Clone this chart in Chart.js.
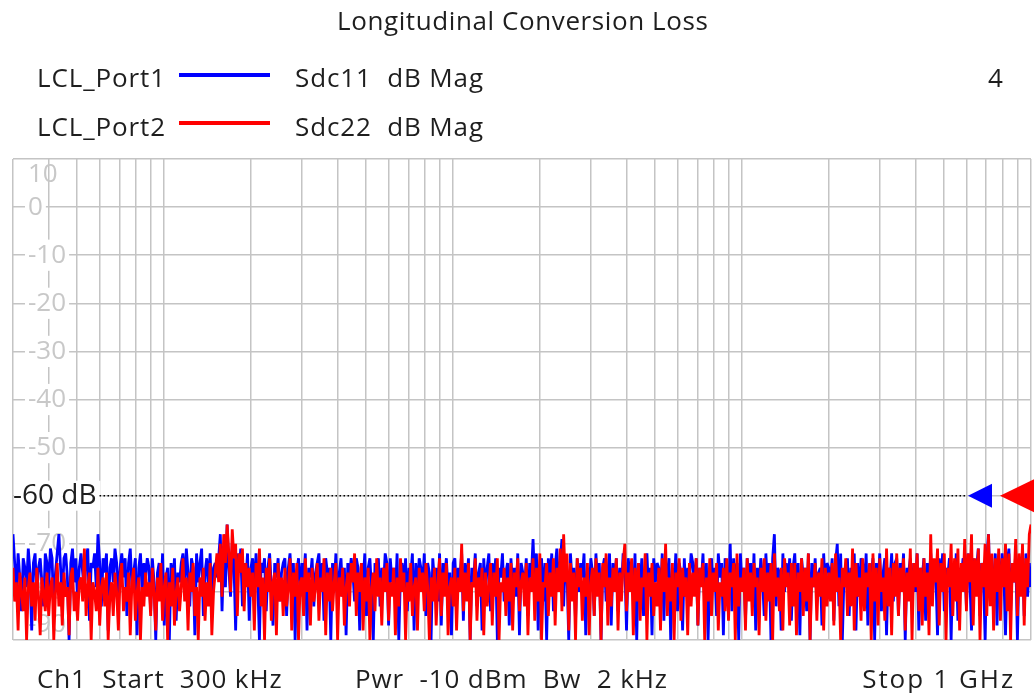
<!DOCTYPE html>
<html>
<head>
<meta charset="utf-8">
<title>Longitudinal Conversion Loss</title>
<script src="https://cdn.jsdelivr.net/npm/chart.js@4.4.1/dist/chart.umd.min.js"></script>
<style>
  html, body { margin: 0; padding: 0; background: #fff; }
  body { width: 1034px; height: 693px; position: relative; overflow: hidden; font-family: "Open Sans", sans-serif; color: #1e1e1e; }
  #chart { position: absolute; left: 0; top: 0; }
  .txt { position: absolute; font-size: 26px; line-height: 26px; white-space: pre; letter-spacing: 0.9px; }
  .swatch { position: absolute; width: 91px; height: 4px; }
</style>
</head>
<body>
<canvas id="chart" width="1034" height="693"></canvas>
<div class="txt" style="left:337px; top:7px; letter-spacing:0.6px;">Longitudinal Conversion Loss</div>
<div class="txt" style="left:37px; top:64px;">LCL_Port1</div>
<div class="swatch" style="left:179px; top:73px; background:#0000ff;"></div>
<div class="txt" style="left:295px; top:64px;">Sdc11  dB Mag</div>
<div class="txt" style="left:988px; top:64px;">4</div>
<div class="txt" style="left:37px; top:113px;">LCL_Port2</div>
<div class="swatch" style="left:179px; top:121px; background:#ff0000;"></div>
<div class="txt" style="left:295px; top:113px;">Sdc22  dB Mag</div>
<div class="txt" style="left:37px; top:665px;">Ch1  Start  300 kHz</div>
<div class="txt" style="left:355px; top:665px;">Pwr  -10 dBm  Bw  2 kHz</div>
<div class="txt" style="right:19px; top:665px; letter-spacing:1.9px;">Stop 1 GHz</div>
<script>
// sweep: log, 300 kHz .. 1 GHz
const startFreq = 300e3;
const stopFreq = 1e9;
const yTicks = [10, 0, -10, -20, -30, -40, -50, -60, -70, -80, -90];
const refLevel = -60;

// Sdc11 (trace 1), dB left to right
const sdc11 = [
  -68,-74,-80,-72,-77,-84,-73,-75,-79,-71,-76,-88,-74,-72,-81,-75,-73,-78,-83,-72,
  -74,-79,-71,-73,-85,-76,-72,-68,-75,-81,-73,-72,-77,-90,-74,-71,-78,-73,-82,-75,
  -72,-76,-80,-73,-71,-86,-74,-75,-72,-79,-68,-74,-83,-73,-76,-72,-88,-75,-73,-78,
  -71,-74,-82,-75,-72,-77,-73,-85,-74,-71,-79,-76,-73,-89,-75,-72,-80,-74,-77,-73,
  -75,-84,-73,-78,-90,-76,-74,-81,-72,-87,-77,-75,-90,-74,-79,-73,-86,-76,-78,-74,
  -72,-80,-71,-76,-83,-73,-75,-89,-72,-78,-74,-71,-85,-76,-73,-79,-72,-82,-75,-74,
  -77,-73,-68,-84,-72,-79,-66,-75,-81,-70,-74,-88,-72,-76,-71,-83,-74,-78,-72,-86,
  -75,-73,-80,-72,-78,-90,-74,-76,-73,-84,-75,-72,-79,-87,-74,-77,-73,-82,-76,-74,
  -73,-85,-75,-72,-79,-74,-90,-76,-73,-81,-74,-78,-72,-88,-75,-77,-73,-83,-76,-74,
  -72,-80,-74,-86,-73,-76,-75,-90,-74,-79,-72,-84,-76,-73,-81,-75,-89,-74,-77,-73,
  -76,-82,-73,-75,-88,-74,-78,-72,-85,-75,-73,-80,-90,-74,-77,-73,-83,-75,-79,-72,
  -74,-87,-73,-78,-75,-81,-72,-90,-76,-74,-79,-73,-84,-75,-77,-72,-88,-74,-80,-73,
  -75,-79,-72,-85,-74,-76,-90,-73,-78,-75,-82,-72,-87,-74,-77,-73,-80,-76,-89,-74,
  -73,-81,-75,-77,-72,-86,-74,-79,-73,-90,-75,-78,-72,-83,-76,-74,-88,-73,-80,-75,
  -72,-84,-74,-78,-73,-90,-75,-77,-72,-82,-76,-74,-87,-73,-79,-75,-81,-72,-89,-74,
  -76,-80,-73,-85,-74,-77,-69,-79,-72,-88,-75,-73,-82,-74,-90,-73,-78,-72,-84,-75,
  -71,-79,-74,-69,-83,-73,-76,-90,-72,-78,-75,-86,-73,-80,-74,-77,-72,-89,-75,-81,
  -73,-76,-85,-72,-79,-74,-90,-75,-73,-82,-76,-72,-87,-74,-78,-73,-84,-75,-80,-72,
  -74,-88,-73,-77,-75,-81,-72,-90,-74,-79,-73,-85,-76,-72,-80,-75,-89,-73,-78,-74,
  -75,-82,-72,-86,-74,-77,-73,-90,-75,-79,-72,-84,-74,-76,-88,-73,-81,-75,-78,-72,
  -74,-79,-73,-87,-75,-78,-72,-83,-74,-90,-76,-73,-80,-75,-85,-72,-77,-74,-89,-73,
  -76,-81,-70,-84,-73,-78,-74,-90,-72,-79,-75,-86,-73,-77,-74,-82,-72,-88,-75,-80,
  -73,-77,-85,-72,-79,-74,-90,-73,-68,-83,-75,-76,-88,-72,-80,-74,-78,-73,-86,-75,
  -72,-81,-74,-89,-73,-77,-75,-84,-72,-90,-74,-79,-73,-82,-76,-75,-87,-72,-80,-74,
  -75,-78,-73,-86,-74,-70,-83,-72,-90,-76,-79,-73,-85,-75,-77,-72,-88,-74,-81,-73,
  -74,-80,-72,-87,-75,-77,-73,-90,-74,-79,-72,-84,-76,-73,-89,-75,-78,-72,-82,-74,
  -73,-85,-74,-78,-72,-90,-75,-76,-73,-83,-74,-80,-72,-88,-75,-77,-73,-86,-74,-79,
  -72,-81,-74,-76,-89,-73,-78,-72,-84,-75,-77,-73,-90,-74,-80,-72,-86,-75,-78,-73,
  -74,-83,-72,-77,-88,-73,-79,-75,-71,-85,-74,-76,-90,-73,-68,-82,-75,-78,-72,-87,
  -73,-80,-72,-76,-89,-74,-71,-84,-75,-78,-72,-90,-74,-77,-73,-85,-72,-81,-74,-79
];

// Sdc22 (trace 2), dB
const sdc22 = [
  -75,-82,-78,-88,-76,-80,-84,-77,-90,-79,-76,-83,-78,-86,-75,-81,-89,-77,-80,-84,
  -76,-85,-79,-77,-90,-80,-74,-83,-78,-87,-76,-81,-79,-89,-77,-75,-84,-80,-86,-78,
  -77,-82,-71,-85,-79,-76,-90,-78,-80,-84,-75,-87,-79,-77,-83,-76,-90,-81,-78,-85,
  -76,-80,-88,-77,-74,-84,-79,-82,-76,-89,-78,-75,-86,-80,-77,-90,-79,-83,-76,-81,
  -78,-85,-75,-80,-88,-77,-82,-74,-86,-79,-76,-90,-78,-83,-75,-87,-80,-77,-84,-79,
  -73,-82,-77,-88,-76,-80,-74,-85,-79,-90,-77,-81,-75,-86,-78,-83,-74,-89,-80,-76,
  -72,-78,-70,-81,-68,-74,-66,-72,-80,-67,-73,-70,-85,-72,-76,-71,-84,-74,-79,-75,
  -81,-76,-88,-74,-79,-71,-83,-77,-90,-75,-80,-73,-86,-78,-76,-89,-74,-82,-77,-85,
  -75,-83,-79,-73,-88,-76,-81,-74,-90,-78,-77,-85,-73,-80,-76,-87,-75,-82,-79,-74,
  -86,-77,-80,-73,-89,-76,-82,-75,-84,-78,-74,-90,-77,-81,-75,-87,-79,-76,-83,-74,
  -78,-72,-85,-76,-80,-74,-88,-77,-82,-75,-90,-79,-76,-84,-73,-81,-77,-87,-75,-80,
  -74,-86,-78,-81,-75,-89,-77,-83,-73,-80,-76,-90,-78,-82,-74,-85,-79,-77,-88,-75,
  -80,-76,-84,-74,-79,-90,-77,-82,-75,-87,-78,-73,-85,-76,-81,-74,-89,-79,-77,-83,
  -75,-88,-77,-80,-70,-84,-76,-82,-74,-90,-78,-79,-73,-86,-77,-81,-75,-89,-76,-83,
  -79,-74,-87,-76,-81,-73,-90,-78,-80,-75,-85,-77,-82,-74,-88,-76,-79,-73,-84,-78,
  -76,-83,-74,-89,-77,-80,-73,-86,-75,-82,-72,-90,-78,-79,-74,-85,-76,-81,-73,-87,
  -75,-80,-71,-84,-68,-78,-72,-88,-74,-82,-76,-90,-73,-79,-75,-86,-77,-81,-74,-89,
  -78,-75,-85,-73,-81,-76,-90,-74,-79,-72,-87,-77,-83,-75,-80,-73,-88,-76,-82,-74,
  -70,-84,-76,-80,-73,-89,-75,-82,-74,-86,-77,-79,-72,-90,-76,-81,-74,-85,-78,-83,
  -75,-88,-73,-80,-70,-85,-77,-82,-74,-90,-76,-79,-73,-86,-75,-81,-77,-89,-74,-83,
  -76,-81,-73,-87,-75,-79,-74,-90,-77,-82,-73,-85,-76,-80,-74,-88,-78,-81,-75,-84,
  -73,-86,-76,-79,-74,-90,-72,-83,-77,-80,-75,-88,-73,-82,-76,-85,-74,-79,-77,-89,
  -75,-80,-73,-86,-76,-82,-74,-90,-72,-81,-77,-84,-75,-88,-73,-79,-76,-87,-74,-83,
  -74,-89,-76,-80,-73,-85,-75,-82,-72,-90,-77,-79,-74,-86,-76,-81,-73,-88,-75,-83,
  -76,-82,-74,-87,-72,-80,-77,-90,-75,-79,-73,-85,-76,-83,-71,-88,-74,-81,-77,-86,
  -73,-84,-76,-79,-74,-90,-72,-82,-75,-87,-73,-80,-77,-86,-71,-83,-75,-89,-74,-81,
  -72,-85,-75,-80,-73,-88,-76,-82,-71,-90,-74,-79,-72,-84,-75,-87,-73,-81,-76,-89,
  -68,-83,-73,-78,-71,-87,-74,-80,-72,-90,-75,-79,-70,-85,-73,-82,-71,-88,-74,-80,
  -69,-84,-72,-78,-68,-87,-73,-81,-71,-90,-74,-79,-70,-85,-68,-83,-72,-88,-73,-80,
  -71,-86,-73,-79,-70,-84,-72,-90,-74,-78,-69,-85,-72,-81,-70,-87,-73,-79,-68,-66
];

// sweep points are spaced evenly in log frequency
function sweep(values) {
  const n = values.length;
  const span = Math.log10(stopFreq / startFreq);
  return values.map((v, i) => ({
    x: startFreq * Math.pow(10, (span * i) / (n - 1)),
    y: v,
  }));
}

// grid lines at 1..9 x 10^n inside the sweep
function logGrid() {
  const out = [{ value: startFreq }];
  for (let dec = 1e5; dec <= 1e9; dec *= 10) {
    for (let m = 1; m <= 9; m++) {
      const f = m * dec;
      if (f > startFreq && f < stopFreq) out.push({ value: f });
    }
  }
  out.push({ value: stopFreq });
  return out;
}

const gridGray = "#c4c4c4";
const labelGray = "#c8c8c8";
const uiFont = '"Open Sans", sans-serif';
const yMax = yTicks[0];
const yMin = yTicks[yTicks.length - 1];

const refLine = {
  id: "refLine",
  beforeDatasetsDraw(chart) {
    const { ctx, chartArea, scales } = chart;
    const yy = scales.y.getPixelForValue(refLevel);
    const label = `${refLevel} dB`;
    ctx.save();
    ctx.font = `28px ${uiFont}`;
    ctx.textBaseline = "middle";
    const w = ctx.measureText(label).width;
    ctx.fillStyle = "#fff";
    ctx.fillRect(chartArea.left + 1, yy - 15, w + 3, 30);
    ctx.fillStyle = "#1e1e1e";
    ctx.fillText(label, chartArea.left, yy);
    ctx.strokeStyle = "#000";
    ctx.lineWidth = 1.5;
    ctx.setLineDash([1.5, 2.5]);
    ctx.beginPath();
    ctx.moveTo(chartArea.left + w + 3, yy);
    ctx.lineTo(chartArea.right - 66, yy);
    ctx.stroke();
    ctx.restore();
  },
  afterDraw(chart) {
    const { ctx, chartArea, scales } = chart;
    const yy = scales.y.getPixelForValue(refLevel);
    const r = chartArea.right;
    ctx.save();
    // trace 1 marker
    ctx.fillStyle = "#0000ff";
    ctx.beginPath();
    ctx.moveTo(r - 63, yy);
    ctx.lineTo(r - 39, yy - 12);
    ctx.lineTo(r - 39, yy + 12);
    ctx.closePath();
    ctx.fill();
    // trace 2 marker
    ctx.fillStyle = "#ff0000";
    ctx.beginPath();
    ctx.moveTo(r - 31, yy);
    ctx.lineTo(r + 4, yy - 17);
    ctx.lineTo(r + 4, yy + 17);
    ctx.closePath();
    ctx.fill();
    ctx.restore();
  },
};

const ctx = document.getElementById("chart").getContext("2d");

new Chart(ctx, {
  type: "line",
  data: {
    datasets: [
      {
        label: "LCL_Port2",
        data: sweep(sdc22),
        borderColor: "#ff0000",
        borderWidth: 2.8,
        borderJoinStyle: "bevel",
        pointRadius: 0,
        order: 0,
      },
      {
        label: "LCL_Port1",
        data: sweep(sdc11),
        borderColor: "#0000ff",
        borderWidth: 2.8,
        borderJoinStyle: "bevel",
        pointRadius: 0,
        order: 1,
      },
    ],
  },
  options: {
    responsive: false,
    animation: false,
    events: [],
    layout: { padding: { left: 13, top: 159, right: 3, bottom: 53 } },
    plugins: {
      legend: { display: false },
      tooltip: { enabled: false },
    },
    scales: {
      x: {
        type: "logarithmic",
        min: startFreq,
        max: stopFreq,
        afterBuildTicks: (scale) => {
          scale.ticks = logGrid();
        },
        ticks: { display: false },
        grid: { color: gridGray, lineWidth: 1.5, drawTicks: false },
        border: { display: false },
      },
      y: {
        min: yMin,
        max: yMax,
        afterBuildTicks: (scale) => {
          scale.ticks = yTicks.map((v) => ({ value: v }));
        },
        // labels sit inside the plot, so the axis takes no room
        afterFit: (scale) => {
          scale.width = 0;
        },
        ticks: {
          autoSkip: false,
          mirror: true,
          padding: 15,
          color: labelGray,
          font: { family: uiFont, size: 26 },
          // end labels are pushed inside the frame
          callback: (v) => {
            if (v === refLevel) return "";
            if (v === yMax) return ["", String(v)];
            if (v === yMin) return [String(v), ""];
            return String(v);
          },
          showLabelBackdrop: true,
          backdropColor: (c) => {
            const v = c.tick && c.tick.value;
            return v === refLevel || v === yMax || v === yMin ? "rgba(0,0,0,0)" : "#fff";
          },
          backdropPadding: { left: 3, right: 3, top: 0, bottom: 0 },
        },
        grid: { color: gridGray, lineWidth: 1.5, drawTicks: false },
        border: { display: false },
      },
    },
  },
  plugins: [refLine],
});
</script>
</body>
</html>
